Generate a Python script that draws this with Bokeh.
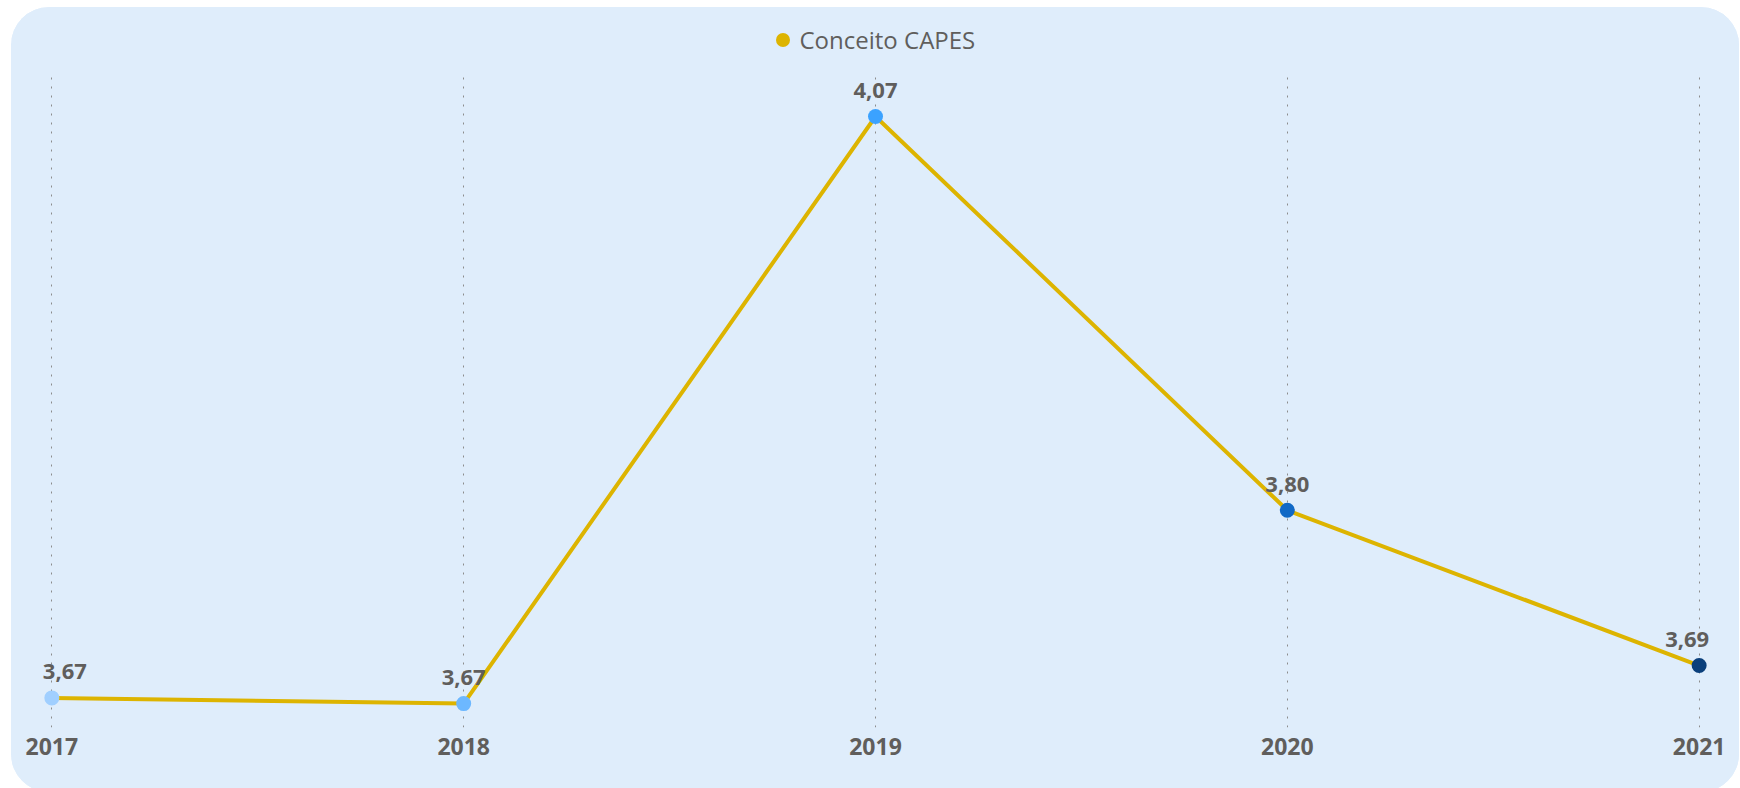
from bokeh.plotting import figure
from bokeh.layouts import column
from bokeh.models import Range1d, FixedTicker, Legend, LegendItem, ColumnDataSource
from bokeh.core.properties import value
from bokeh.embed import file_html
from bokeh.resources import INLINE

# ---- data ----
years = [2017, 2018, 2019, 2020, 2021]
conceito = [3.6714, 3.6675, 4.07, 3.80, 3.6936]
point_colors = ["#A0CFFF", "#6DB8FF", "#3BA2FF", "#1169C6", "#0A3F7B"]
tick_labels = ["2017", "2018", "2019", "2020", "2021"]
series_name = "Conceito CAPES"

LINE = "#DDB400"
BG = "#DFEDFB"
TXT = "#605E5C"
FONT = "Open Sans"
W = 1728
LEG_H = 67

# ---------- legend strip ----------
lg = figure(width=W, height=LEG_H, output_backend="svg", toolbar_location=None,
            x_axis_location=None, y_axis_location=None,
            x_range=Range1d(0, 1), y_range=Range1d(0, 1),
            min_border_left=0, min_border_right=0, min_border_top=0, min_border_bottom=0)
lg.background_fill_color = BG
lg.border_fill_color = BG
lg.outline_line_color = None
lg.grid.visible = False
# legend key renderer (its point lies outside this strip's ranges, so only the key shows)
key = lg.scatter(x=years[:1], y=conceito[:1], size=14, fill_color=LINE, line_color=None)
legend = Legend(items=[LegendItem(label=series_name, renderers=[key])],
                location=(725.5, 17.5), glyph_width=35, glyph_height=35,
                label_standoff=-9, padding=0, margin=0, spacing=0,
                label_text_font=FONT, label_text_font_size="24px",
                label_text_color=TXT, background_fill_alpha=0,
                border_line_color=None)
lg.add_layout(legend)

# ---------- main chart ----------
p = figure(width=W, height=785 - LEG_H, output_backend="svg", toolbar_location=None,
           x_range=Range1d(2016.97, 2021.03), y_range=Range1d(3.6511, 4.0988),
           y_axis_location=None,
           min_border_left=28, min_border_right=28, min_border_top=0, min_border_bottom=65)
p.background_fill_color = BG
p.border_fill_color = BG
p.outline_line_color = None

ax = p.xaxis[0]
ax.ticker = FixedTicker(ticks=years)
ax.major_label_overrides = {y: t for y, t in zip(years, tick_labels)}
ax.axis_line_color = None
ax.major_tick_line_color = None
ax.minor_tick_line_color = None
ax.major_tick_out = 0
ax.major_tick_in = 0
ax.major_label_standoff = 10
ax.major_label_text_font = FONT
ax.major_label_text_font_style = "bold"
ax.major_label_text_font_size = "23px"
ax.major_label_text_color = TXT

p.xgrid.ticker = FixedTicker(ticks=years)
p.xgrid.grid_line_color = "#8C8C8C"
p.xgrid.grid_line_dash = "2 7"
p.xgrid.grid_line_width = 1
for g in p.ygrid:
    g.grid_line_color = None

p.line(years, conceito, line_width=4, line_color=LINE)

n = len(years)
xoff = [0] * n
xoff[0] = 13
xoff[-1] = -12
src = ColumnDataSource(dict(
    x=years, y=conceito, c=point_colors,
    label=[f"{v:.2f}".replace(".", ",") for v in conceito],
    xoff=xoff,
))
p.scatter("x", "y", source=src, size=15, fill_color="c", line_color=None)
p.text(x="x", y="y", text="label", source=src, x_offset="xoff", y_offset=-26,
       text_align="center", text_baseline="middle",
       text_font=value(FONT), text_font_style="bold", text_font_size="22px",
       text_color=TXT)

card = column(lg, p, spacing=0,
              styles={"border-radius": "38px", "overflow": "hidden",
                      "background-color": BG,
                      "margin-left": "11px", "margin-top": "7px"})

open("out.html", "w").write(file_html(card, INLINE))
